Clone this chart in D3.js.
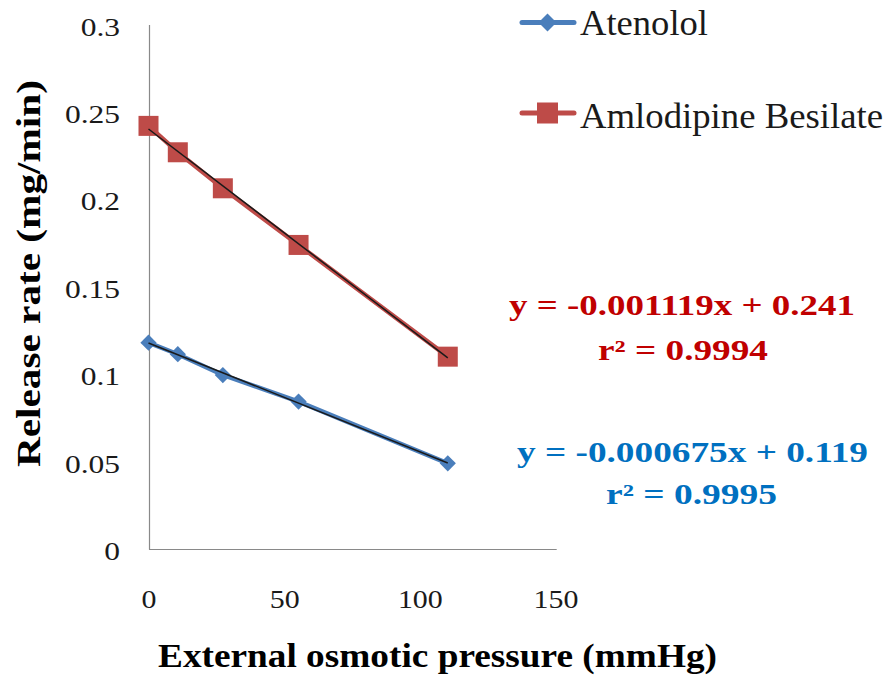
<!DOCTYPE html>
<html><head><meta charset="utf-8">
<script src="https://cdn.jsdelivr.net/npm/d3@7"></script>
<style>body{margin:0;background:#fff;} svg{display:block;}</style>
</head><body>
<svg id="c" width="887" height="679"></svg>
<script>
const pressure = [0, 10.8, 27.4, 55.3, 110.3];
const atenolol = [0.1183, 0.1117, 0.0998, 0.0846, 0.0493];
const amlodipine = [0.2423, 0.2272, 0.2066, 0.1742, 0.1103];
const seriesNames = ["Atenolol", "Amlodipine Besilate"];
const xTicks = [0, 50, 100, 150];
const yTicks = [0, 0.05, 0.1, 0.15, 0.2, 0.25, 0.3];
const yTickLabels = ["0", "0.05", "0.1", "0.15", "0.2", "0.25", "0.3"];
const eqAml = ["y = -0.001119x + 0.241", "r² = 0.9994"];
const eqAte = ["y = -0.000675x + 0.119", "r² = 0.9995"];

const svg = d3.select("#c");
const x = d3.scaleLinear().domain([0,150]).range([148.5,555.5]);
const y = d3.scaleLinear().domain([0,0.3]).range([549.5,25]);
const serif = "'Liberation Serif','Times New Roman',serif";

function stretch(sel, f){
  sel.each(function(){
    const w = this.getComputedTextLength();
    d3.select(this).attr("textLength", w*f).attr("lengthAdjust","spacingAndGlyphs");
  });
}

// axes
const xAxis = svg.append("g").attr("transform","translate(0,549.5)")
  .call(d3.axisBottom(x).tickValues(xTicks).tickSize(0).tickPadding(40).tickFormat(d3.format("d")));
const yAxis = svg.append("g").attr("transform","translate(149.5,0)")
  .call(d3.axisLeft(y).tickValues(yTicks).tickSize(0).tickPadding(29.5).tickFormat((d,i)=>yTickLabels[i]));
xAxis.select(".domain").attr("d","M149,0H556.7");
yAxis.select(".domain").attr("d","M0,25V549.5");
[xAxis,yAxis].forEach(a=>{
  a.select(".domain").attr("stroke","#898989").attr("stroke-width",1.2);
  a.selectAll("text").attr("font-family",serif).attr("font-size",26).attr("fill","#1a1a1a");
});
yAxis.selectAll("text").attr("font-size",25).attr("dy","0.4em");
stretch(xAxis.selectAll("text"), 1.15);
stretch(yAxis.selectAll("text"), 1.26);

function fit(xs, ys){
  const mx=d3.mean(xs), my=d3.mean(ys);
  let sxy=0,sxx=0; xs.forEach((v,i)=>{sxy+=(v-mx)*(ys[i]-my); sxx+=(v-mx)*(v-mx);});
  const b=sxy/sxx; return [b, my-b*mx];
}

const series = [
  {name:seriesNames[0], vals:atenolol, color:"#4a7ebb", marker:"diamond"},
  {name:seriesNames[1], vals:amlodipine, color:"#be4b48", marker:"square"}
];
const line = d3.line().x(d=>x(d[0])).y(d=>y(d[1]));
function drawMarker(g, type, cx, cy, color, big){
  if(type==="square"){
    const h = big ? 10.5 : 10;
    g.append("rect").attr("x",cx-h).attr("y",cy-h).attr("width",2*h).attr("height",2*h).attr("fill",color);
  } else {
    g.append("path").attr("d",d3.symbol().type(d3.symbolDiamond2).size(big?206:168)()).attr("transform",`translate(${cx},${cy})`).attr("fill",color);
  }
}
series.forEach(s=>{
  const pts = pressure.map((p,i)=>[p,s.vals[i]]);
  svg.append("path").attr("d",line(pts)).attr("fill","none").attr("stroke",s.color).attr("stroke-width",4.5);
  const g = svg.append("g");
  pts.forEach(p=>drawMarker(g, s.marker, x(p[0]), y(p[1]), s.color, false));
  const [b,a] = fit(pressure, s.vals);
  const x0=d3.min(pressure), x1=d3.max(pressure);
  svg.append("line").attr("x1",x(x0)).attr("y1",y(a+b*x0)).attr("x2",x(x1)).attr("y2",y(a+b*x1))
    .attr("stroke","#1a1a1a").attr("stroke-width",1.5);
});

// legend
const leg = [{y:22.5, base:35, w:128, s:series[0]},{y:113, base:128, w:303, s:series[1]}];
leg.forEach(l=>{
  svg.append("line").attr("x1",522).attr("x2",574).attr("y1",l.y).attr("y2",l.y).attr("stroke",l.s.color).attr("stroke-width",5).attr("stroke-linecap","round");
  drawMarker(svg, l.s.marker, 547.5, l.y, l.s.color, true);
  svg.append("text").attr("x",580).attr("y",l.base).attr("font-family",serif).attr("font-size",35).attr("fill","#1a1a1a")
    .attr("textLength",l.w).attr("lengthAdjust","spacingAndGlyphs").text(l.s.name);
});

// equations
function eq(lines, xs, ws, ys, color){
  lines.forEach((t,i)=>svg.append("text").attr("x",xs[i]).attr("y",ys[i])
    .attr("font-family",serif).attr("font-weight","bold").attr("font-size",29).attr("fill",color)
    .attr("textLength",ws[i]).attr("lengthAdjust","spacingAndGlyphs").text(t));
}
eq(eqAml, [509, 598], [346, 170], [315, 360], "#c00000");
eq(eqAte, [517, 606], [351, 171], [462, 504], "#0070c0");

// axis titles
svg.append("text").attr("x",158).attr("y",667).attr("font-family",serif)
  .attr("font-weight","bold").attr("font-size",33).attr("fill","#000")
  .attr("textLength",559).attr("lengthAdjust","spacingAndGlyphs").text("External osmotic pressure (mmHg)");
svg.append("text").attr("transform","translate(40,467) rotate(-90)").attr("font-family",serif)
  .attr("font-weight","bold").attr("font-size",33).attr("fill","#000")
  .attr("textLength",387).attr("lengthAdjust","spacingAndGlyphs").text("Release rate (mg/min)");
</script>
</body></html>
